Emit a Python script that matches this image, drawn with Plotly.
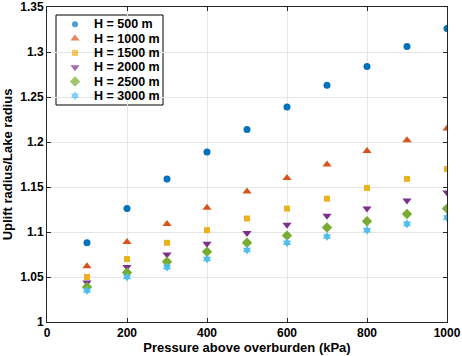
import plotly.graph_objects as go

pressure = [100, 200, 300, 400, 500, 600, 700, 800, 900, 1000]
h500 = [1.088, 1.126, 1.159, 1.189, 1.214, 1.239, 1.263, 1.284, 1.306, 1.326]
h1000 = [1.062, 1.089, 1.109, 1.127, 1.145, 1.160, 1.175, 1.190, 1.202, 1.215]
h1500 = [1.050, 1.070, 1.088, 1.102, 1.115, 1.126, 1.137, 1.149, 1.159, 1.170]
h2000 = [1.044, 1.061, 1.075, 1.087, 1.099, 1.108, 1.118, 1.126, 1.135, 1.144]
h2500 = [1.039, 1.055, 1.067, 1.078, 1.088, 1.096, 1.105, 1.112, 1.120, 1.126]
h3000 = [1.035, 1.050, 1.061, 1.070, 1.080, 1.088, 1.095, 1.102, 1.109, 1.116]
names = ["H = 500 m", "H = 1000 m", "H = 1500 m", "H = 2000 m", "H = 2500 m", "H = 3000 m"]
x_ticks = [0, 200, 400, 600, 800, 1000]
y_ticks = [1, 1.05, 1.1, 1.15, 1.2, 1.25, 1.3, 1.35]
y_ticklabels = ["1", "1.05", "1.1", "1.15", "1.2", "1.25", "1.3", "1.35"]

values = [h500, h1000, h1500, h2000, h2500, h3000]
colors = ["#0072BD", "#D95319", "#EDB120", "#7E2F8E", "#77AC30", "#4DBEEE"]
symbols = ["circle", "triangle-up", "square", "triangle-down", "diamond", "hexagram"]
sizes = [7, 8, 6, 8, 8, 7]
leg_sizes = [6, 8, 6, 8, 8, 7]

FAM = "Liberation Sans, Arial, sans-serif"
font = dict(family=FAM, size=12, color="black", weight="bold")

fig = go.Figure()
for name, ys, col, sym, sz in zip(names, values, colors, symbols, sizes):
    fig.add_trace(go.Scatter(x=pressure, y=ys, mode="markers", name=name, showlegend=False,
                             marker=dict(color=col, symbol=sym, size=sz, line=dict(width=0))))

# manual legend (compact like the reference)
PL, PW, PT, PH = 47, 400, 7, 315
def px_to_paper_x(px):
    return (px - PL) / PW
def px_to_paper_y(py):
    return 1 - (py - PT) / PH

row0, dy = 24.3, 14.3
leg_x = px_to_paper_x(75)
leg_ys = [px_to_paper_y(row0 + i * dy) for i in range(len(names))]
fig.add_trace(go.Scatter(x=[leg_x] * len(names), y=leg_ys, xaxis="x2", yaxis="y2",
                         mode="markers", showlegend=False, hoverinfo="skip",
                         marker=dict(color=colors, symbol=symbols, size=leg_sizes, line=dict(width=0))))
fig.add_shape(type="rect", xref="paper", yref="paper",
              x0=px_to_paper_x(56), x1=px_to_paper_x(163),
              y0=px_to_paper_y(105), y1=px_to_paper_y(15),
              line=dict(color="black", width=1), fillcolor="white", layer="between")
for name, yy in zip(names, leg_ys):
    fig.add_annotation(x=px_to_paper_x(92), y=yy, xref="paper", yref="paper",
                       text=name, showarrow=False, xanchor="left", yanchor="middle",
                       font=dict(family=FAM, size=12.5, color="black", weight="bold"))

axis_common = dict(showline=True, linecolor="#262626", linewidth=1, mirror="ticks",
                   ticks="inside", ticklen=4, tickcolor="#262626",
                   showgrid=True, gridcolor="#e6e6e6", gridwidth=1, zeroline=False,
                   tickfont=font, automargin=False)

fig.update_layout(
    width=462, height=356,
    margin=dict(l=PL, r=462 - PL - PW, t=PT, b=356 - PT - PH),
    paper_bgcolor="white", plot_bgcolor="white",
    font=font,
    showlegend=False,
    xaxis=dict(range=[0, 1000], tickvals=x_ticks,
               title=dict(text="Pressure above overburden (kPa)", standoff=0,
                          font=dict(family=FAM, size=13, color="black", weight="bold")),
               **axis_common),
    yaxis=dict(range=[1, 1.35], tickvals=y_ticks, ticktext=y_ticklabels,
               title=dict(text="Uplift radius/Lake radius", standoff=4,
                          font=dict(family=FAM, size=13, color="black", weight="bold")),
               **axis_common),
    xaxis2=dict(overlaying="x", range=[0, 1], visible=False, fixedrange=True),
    yaxis2=dict(overlaying="y", range=[0, 1], visible=False, fixedrange=True),
)

fig.write_html("out.html", config={"displayModeBar": False},
               post_script="document.body.style.margin='0';document.body.style.overflow='hidden';")
